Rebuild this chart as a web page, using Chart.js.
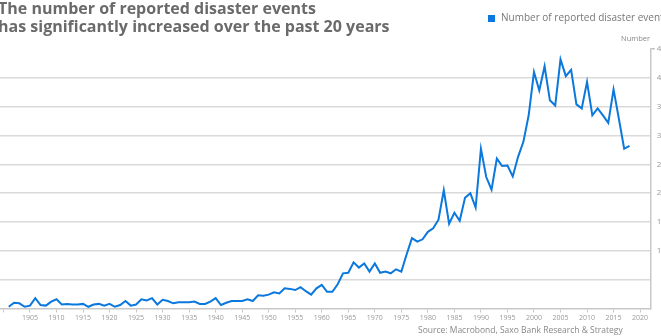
<!DOCTYPE html>
<html>
<head>
<meta charset="utf-8">
<script src="https://cdn.jsdelivr.net/npm/chart.js@4"></script>
<style>
body{margin:0;width:661px;height:336px;overflow:hidden;position:relative;background:#fff;font-family:"Open Sans",sans-serif}
#wrap{position:absolute;left:0;top:0;width:700px;height:336px}
.title{position:absolute;left:-2px;top:-1px;font-weight:700;font-size:16px;line-height:18px;color:#6a6a6a;white-space:nowrap}
.legend{position:absolute;left:488px;top:10px;font-size:10px;color:#777;white-space:nowrap}
.legend i{display:inline-block;width:7px;height:7px;background:#0a78dc;margin-right:6px;vertical-align:-1px}
.unit{position:absolute;left:621px;top:33px;font-size:7.5px;color:#888}
.source{position:absolute;left:418px;top:324px;font-size:8.5px;color:#888;white-space:nowrap}
</style>
</head>
<body>
<div id="wrap"><canvas id="chart" width="700" height="336"></canvas></div>
<div class="title">The number of reported disaster events<br>has significantly increased over the past 20 years</div>
<div class="legend"><i></i>Number of reported disaster events</div>
<div class="unit">Number</div>
<div class="source">Source: Macrobond, Saxo Bank Research &amp; Strategy</div>
<script>
// yearly counts, 1901 - 2018
const firstYear = 1901;
const counts = [
  3, 10, 9, 3, 5, 18, 6, 5, 12, 16,        // 1901-1910
  7, 8, 7, 7, 8, 3, 7, 8, 5, 8,            // 1911-1920
  3, 6, 13, 5, 7, 16, 14, 18, 7, 15,       // 1921-1930
  13, 9, 11, 11, 11, 12, 8, 8, 12, 18,     // 1931-1940
  6, 10, 13, 13, 13, 16, 13, 23, 22, 24,   // 1941-1950
  28, 26, 35, 34, 32, 37, 30, 24, 35, 41,  // 1951-1960
  29, 29, 42, 61, 62, 80, 71, 78, 64, 78,  // 1961-1970
  62, 64, 61, 68, 64, 94, 122, 116, 120, 133,    // 1971-1980
  139, 154, 205, 147, 166, 152, 192, 200, 175, 277,  // 1981-1990
  228, 206, 260, 247, 248, 229, 263, 289, 335, 410,  // 1991-2000
  378, 420, 361, 352, 432, 403, 414, 354, 347, 393,  // 2001-2010
  335, 347, 335, 322, 380, 329, 277, 282             // 2011-2018
];
const tickYears = [1900,1905,1910,1915,1920,1925,1930,1935,1940,1945,1950,1955,1960,
  1965,1970,1975,1980,1985,1990,1995,2000,2005,2010,2015,2020];
const yLabels = [100,150,200,250,300,350,400,450];

const points = counts.map((v,i)=>({x:firstYear+i, y:v}));

new Chart(document.getElementById('chart'), {
  type:'line',
  data:{datasets:[{
    label:'Number of reported disaster events',
    data:points,
    borderColor:'#0a78dc',
    borderWidth:2,
    pointRadius:0,
    tension:0
  }]},
  options:{
    responsive:false,
    animation:false,
    devicePixelRatio:1,
    layout:{padding:{top:49,left:0,right:0,bottom:0}},
    plugins:{legend:{display:false},tooltip:{enabled:false}},
    scales:{
      x:{
        type:'linear', min:1899.35, max:2022,
        afterBuildTicks:(s)=>{ s.ticks = tickYears.map(v=>({value:v})); },
        afterFit:(s)=>{ s.height = 27.5; },
        ticks:{autoSkip:false,maxRotation:0,padding:1,color:'#999',font:{family:'Open Sans',size:7},
          callback:(v)=> v===1900 ? '' : String(v)},
        grid:{drawOnChartArea:false,tickLength:4,color:'#c8c8c8'},
        border:{color:'#c8c8c8',width:1.5}
      },
      y:{
        position:'right', min:0, max:450,
        afterBuildTicks:(s)=>{ s.ticks = [0,50].concat(yLabels).map(v=>({value:v})); },
        afterFit:(s)=>{ s.width = 49.3; },
        ticks:{padding:2,color:'#999',font:{family:'Open Sans',size:8},
          callback:(v)=> yLabels.includes(v) ? String(v) : ''},
        grid:{
          color:(c)=> (c.tick && c.tick.value>0 && c.tick.value<450) ? '#dadada' : 'rgba(0,0,0,0)',
          tickColor:(c)=> (c.tick && c.tick.value===450) ? '#bbb' : 'rgba(0,0,0,0)',
          lineWidth:1.5, tickLength:4
        },
        border:{color:'#c8c8c8',width:1.5}
      }
    }
  }
});
</script>
</body>
</html>
